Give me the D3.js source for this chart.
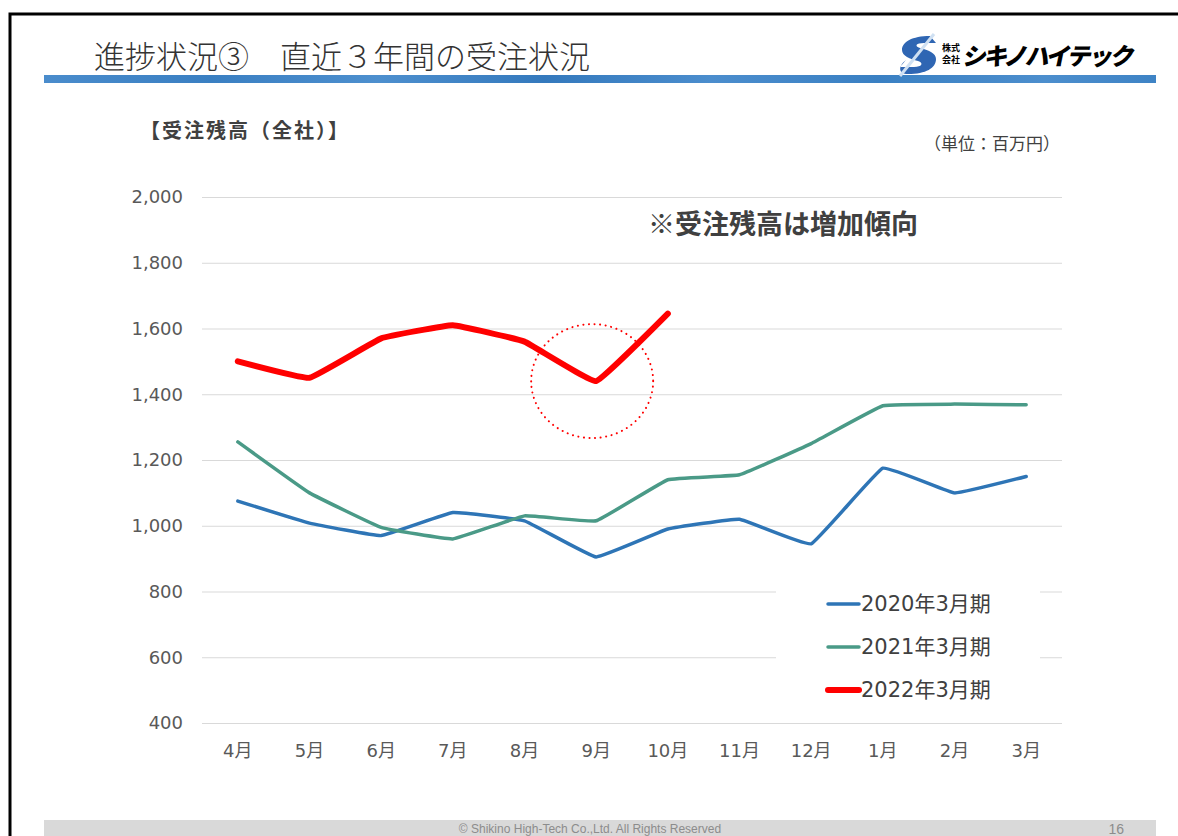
<!DOCTYPE html>
<html>
<head>
<meta charset="utf-8">
<script src="https://cdn.jsdelivr.net/npm/d3@7"></script>
<style>
  html, body { margin: 0; padding: 0; background: #fff; overflow: hidden; }
  svg { display: block; }
</style>
</head>
<body>
<script>
const WIDTH = 1178;
const HEIGHT = 836;
const JP = "'Noto Sans CJK JP', 'Noto Sans', sans-serif";
const NUM = "'DejaVu Sans', 'Noto Sans CJK JP', sans-serif";

// data (百万円)
const months = ["4月", "5月", "6月", "7月", "8月", "9月", "10月", "11月", "12月", "1月", "2月", "3月"];
const fy2020 = [1075, 1008, 970, 1040, 1015, 905, 990, 1020, 945, 1175, 1100, 1150];
const fy2021 = [1255, 1100, 995, 960, 1030, 1015, 1140, 1155, 1250, 1365, 1370, 1368];
const fy2022 = [1500, 1450, 1570, 1610, 1560, 1440, 1645];
const seriesNames = ["2020年3月期", "2021年3月期", "2022年3月期"];
const yTicks = [400, 600, 800, 1000, 1200, 1400, 1600, 1800, 2000];

const series = [
  { name: seriesNames[0], values: fy2020, color: "#2e75b6", width: 3.5 },
  { name: seriesNames[1], values: fy2021, color: "#4a9a87", width: 3.5 },
  { name: seriesNames[2], values: fy2022, color: "#ff0000", width: 6 }
];

const svg = d3.select("body").append("svg")
  .attr("width", WIDTH)
  .attr("height", HEIGHT);

// slide frame
svg.append("path")
  .attr("d", "M10," + HEIGHT + "V14H" + WIDTH)
  .attr("fill", "none")
  .attr("stroke", "#000")
  .attr("stroke-width", 3);

// header title
svg.append("text")
  .attr("x", 94)
  .attr("y", 68)
  .style("font-family", JP)
  .style("font-size", "31px")
  .style("font-weight", 300)
  .style("fill", "#333")
  .text("進捗状況③　直近３年間の受注状況");

// header bar with soft stripes
const defs = svg.append("defs");
const grad = defs.append("linearGradient").attr("id", "bar-grad");
[[0, "#4a8ccc"], [0.15, "#3a7fc2"], [0.3, "#4d8fce"], [0.45, "#3479bd"],
 [0.6, "#4b8dcd"], [0.75, "#3a80c3"], [0.9, "#4c8ecd"], [1, "#3e83c5"]]
  .forEach(s => grad.append("stop").attr("offset", s[0]).attr("stop-color", s[1]));
svg.append("rect")
  .attr("x", 44).attr("y", 75)
  .attr("width", 1112).attr("height", 8)
  .attr("fill", "url(#bar-grad)");

// logo
const logo = svg.append("g").attr("transform", "translate(900,36)");
logo.append("path")
  .attr("d", "M30,0 C12,0 2,6 2,14 C2,20 10,23 18,25 C24,27 22,31 14,31 L0,31 L6,24 C-2,30 -2,38 8,38 C26,38 36,32 36,23 C36,17 28,14 20,12 C14,10 16,7 24,7 L36,7 Z")
  .attr("fill", "#2f66b3");
logo.append("path")
  .attr("d", "M34,-2 L0,40")
  .attr("stroke", "#cfe0f2")
  .attr("stroke-width", 3);
logo.append("text")
  .attr("x", 42).attr("y", 15)
  .style("font-family", JP).style("font-size", "9px").style("font-weight", 700)
  .text("株式");
logo.append("text")
  .attr("x", 42).attr("y", 27)
  .style("font-family", JP).style("font-size", "9px").style("font-weight", 700)
  .text("会社");
logo.append("text")
  .attr("x", 62).attr("y", 29)
  .attr("transform", "skewX(-12) translate(6,0)")
  .style("font-family", JP).style("font-size", "24px").style("font-weight", 900)
  .style("letter-spacing", "-2.5px")
  .text("シキノハイテック");

// chart area
const margin = { left: 202, right: 1062, top: 197, bottom: 723 };

const x = d3.scaleBand()
  .domain(months)
  .range([margin.left, margin.right]);

const y = d3.scaleLinear()
  .domain([400, 2000])
  .range([margin.bottom, margin.top]);

// gridlines
svg.append("g")
  .attr("transform", "translate(" + margin.left + ",0)")
  .call(d3.axisLeft(y).tickValues(yTicks).tickSize(-(margin.right - margin.left)).tickFormat(""))
  .call(g => g.select(".domain").remove())
  .call(g => g.selectAll("line").attr("stroke", "#d9d9d9").attr("stroke-width", 1));

// y tick labels
svg.append("g")
  .attr("transform", "translate(183,0)")
  .call(d3.axisLeft(y).tickValues(yTicks).tickSize(0).tickPadding(0).tickFormat(d3.format(",")))
  .call(g => g.select(".domain").remove())
  .call(g => g.selectAll("text")
    .style("font-family", NUM).style("font-size", "18px").style("fill", "#595959"));

// x tick labels
svg.append("g")
  .attr("transform", "translate(0,740)")
  .call(d3.axisBottom(x).tickSize(0).tickPadding(4))
  .call(g => g.select(".domain").remove())
  .call(g => g.selectAll("text")
    .style("font-family", NUM).style("font-size", "18px").style("fill", "#595959"));

// lines (lightly smoothed, like the office chart)
const line = d3.line()
  .x((d, i) => x(months[i]) + x.bandwidth() / 2)
  .y(d => y(d))
  .curve(d3.curveCardinal.tension(0.75));

svg.append("g").selectAll("path")
  .data(series)
  .join("path")
  .attr("d", d => line(d.values))
  .attr("fill", "none")
  .attr("stroke", d => d.color)
  .attr("stroke-width", d => d.width)
  .attr("stroke-linecap", "round")
  .attr("stroke-linejoin", "round");

// dotted highlight circle around the September dip
svg.append("ellipse")
  .attr("cx", x("9月") + x.bandwidth() / 2 - 4)
  .attr("cy", y(1440))
  .attr("rx", 61)
  .attr("ry", 57)
  .attr("fill", "none")
  .attr("stroke", "#ff0000")
  .attr("stroke-width", 2)
  .attr("stroke-dasharray", "0.1 5.5")
  .attr("stroke-linecap", "round");

// legend
const legend = svg.append("g");
legend.append("rect")
  .attr("x", 776).attr("y", 574)
  .attr("width", 264).attr("height", 142)
  .attr("fill", "#fff");
const li = legend.selectAll("g.item")
  .data(series)
  .join("g")
  .attr("class", "item")
  .attr("transform", (d, i) => "translate(0," + (604 + i * 43) + ")");
li.append("line")
  .attr("x1", 828).attr("x2", 859)
  .attr("stroke", d => d.color)
  .attr("stroke-width", d => d.width)
  .attr("stroke-linecap", "round");
li.append("text")
  .attr("x", 861).attr("y", 7)
  .style("font-family", NUM).style("font-size", "21px").style("fill", "#404040")
  .text(d => d.name);

// chart labels
svg.append("text")
  .attr("x", 140).attr("y", 138)
  .style("font-family", JP).style("font-size", "20px").style("font-weight", 700)
  .style("letter-spacing", "2px")
  .style("fill", "#404040")
  .text("【受注残高（全社）】");

svg.append("text")
  .attr("x", 1060).attr("y", 150)
  .attr("text-anchor", "end")
  .style("font-family", JP).style("font-size", "17px")
  .style("fill", "#404040")
  .text("（単位：百万円）");

svg.append("text")
  .attr("x", 648).attr("y", 234)
  .style("font-family", JP).style("font-size", "27px").style("font-weight", 700)
  .style("fill", "#404040")
  .text("※受注残高は増加傾向");

// footer
svg.append("rect")
  .attr("x", 44).attr("y", 820)
  .attr("width", 1112).attr("height", 16)
  .attr("fill", "#d9d9d9");
svg.append("text")
  .attr("x", 590).attr("y", 833)
  .attr("text-anchor", "middle")
  .style("font-family", "'Liberation Sans', sans-serif").style("font-size", "12px")
  .style("fill", "#8c8c8c")
  .text("© Shikino High-Tech Co.,Ltd. All Rights Reserved");
svg.append("text")
  .attr("x", 1124).attr("y", 834)
  .attr("text-anchor", "end")
  .style("font-family", "'Liberation Sans', sans-serif").style("font-size", "14px")
  .style("fill", "#8c8c8c")
  .text("16");
</script>
</body>
</html>
